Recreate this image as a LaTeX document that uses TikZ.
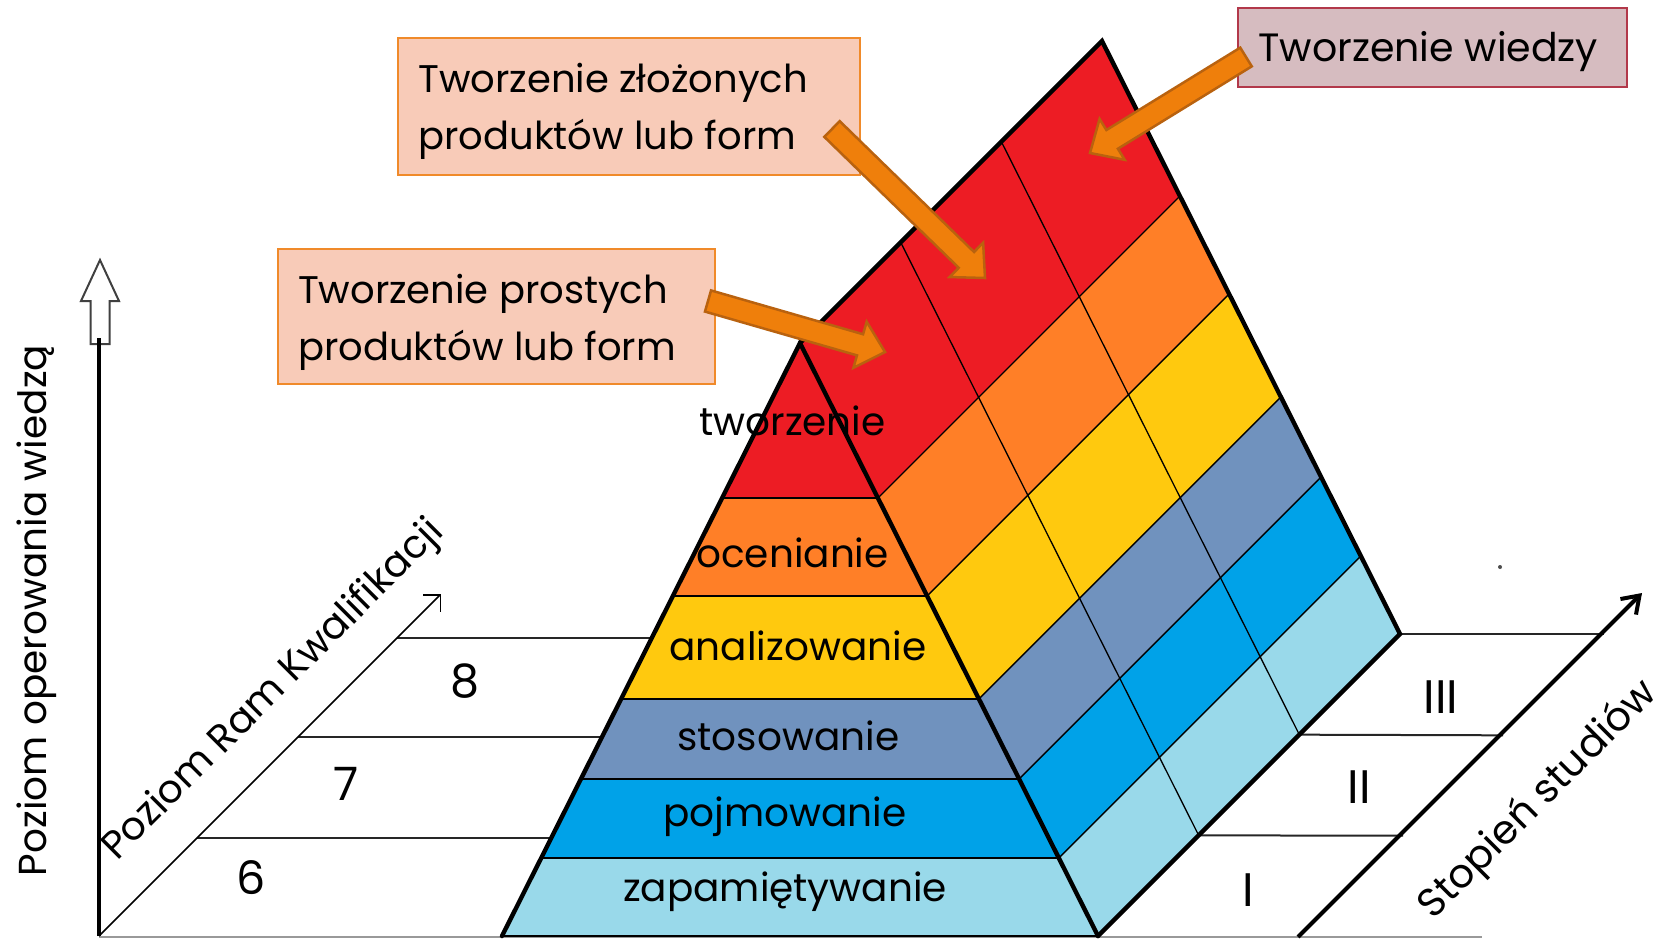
\documentclass[tikz,border=0pt]{standalone}
\usepackage{fontspec}
\setmainfont{Poppins}
\usetikzlibrary{calc,arrows.meta}

\definecolor{pred}{HTML}{ED1C24}
\definecolor{porange}{HTML}{FF7F27}
\definecolor{pyellow}{HTML}{FFC90E}
\definecolor{pslate}{HTML}{7092BE}
\definecolor{pblue}{HTML}{00A2E8}
\definecolor{plight}{HTML}{99D9EA}
\definecolor{peach}{HTML}{F8CBB8}
\definecolor{peachedge}{HTML}{F08A2A}
\definecolor{rosefill}{HTML}{D6BCC0}
\definecolor{roseedge}{HTML}{B2384A}
\definecolor{arrfill}{HTML}{EF7F0B}
\definecolor{arredge}{HTML}{B9620F}

\tikzset{
  thickedge/.style={line width=2.2pt, line join=miter, line cap=round},
  gridthin/.style={line width=0.65pt, black},
  guide/.style={line width=0.8pt, black!85},
  plabel/.style={inner sep=0pt, font=\fontsize{19.5pt}{24pt}\selectfont},
  numlbl/.style={inner sep=0pt, font=\fontsize{23pt}{28pt}\selectfont},
  axlbl/.style={inner sep=0pt, font=\fontsize{19.5pt}{24pt}\selectfont},
  peachbox/.style={draw=peachedge, fill=peach, line width=1pt, inner sep=0pt, anchor=north west},
  rosebox/.style={draw=roseedge, fill=rosefill, line width=1pt, inner sep=0pt, anchor=north west},
  ctext/.style={inner sep=0pt, align=left, font=\fontsize{19.25pt}{28.5pt}\selectfont},
  blockstyle/.style={fill=arrfill, draw=arredge, line width=1.25pt, line join=miter},
}

\newcommand{\blockarr}[2]{%
  \coordinate (#1-b) at ($(#2)!13pt!(#1)$);
  \draw[blockstyle]
    ($(#1)!5.5pt!90:(#2)$) -- ($(#1-b)!5.5pt!90:(#2)$) -- ($(#1-b)!12pt!90:(#2)$)
    -- (#2) -- ($(#1-b)!12pt!-90:(#2)$) -- ($(#1-b)!5.5pt!-90:(#2)$)
    -- ($(#1)!5.5pt!-90:(#2)$) -- cycle;}

\begin{document}
\begin{tikzpicture}[x=0.5pt,y=-0.5pt]
\useasboundingbox (0,0) rectangle (1668,938);

% --- main coordinates
\coordinate (O) at (99,936);
\coordinate (Ktip) at (441,594);
\coordinate (Vtop) at (99,338);
\coordinate (A) at (800,343);
\coordinate (BL) at (502,936);
\coordinate (BR) at (1098,936);
\coordinate (T) at (1102,41);
\coordinate (R) at (1400,634);
\coordinate (S0) at (1298,937);
\coordinate (S1) at (1642,593);
\coordinate (G0) at (99,937);
\coordinate (G1) at (1482,937);

% --- ground lines (behind pyramid)
\draw[line width=1pt, black!40] (G0) -- (G1);
\coordinate (k8) at (397,638);  \coordinate (k8e) at (700,638);
\coordinate (k7) at (298,737);  \coordinate (k7e) at (700,737);
\coordinate (k6) at (197,838);  \coordinate (k6e) at (700,838);
\draw[guide] (k8) -- (k8e);
\draw[guide] (k7) -- (k7e);
\draw[guide] (k6) -- (k6e);
\coordinate (r2) at ($(BR)!2/3!(R)$);
\coordinate (r1) at ($(BR)!1/3!(R)$);
\coordinate (r3e) at (1604,634);
\coordinate (r2e) at (1503,735.3);
\coordinate (r1e) at (1403,835.7);
\draw[guide, line width=1pt] (R) -- (r3e);
\draw[guide, line width=1pt] (r2) -- (r2e);
\draw[guide, line width=1pt] (r1) -- (r1e);

% --- band points on front edges
\foreach \n/\t in {1/0.2614, 2/0.4266, 3/0.6003, 4/0.7352, 5/0.8685}{
  \coordinate (R\n) at ($(A)!\t!(BR)$);
  \coordinate (L\n) at ($(A)!\t!(BL)$);
}
\coordinate (R0) at (A); \coordinate (R6) at (BR);

% --- side face rows
\foreach \a/\b/\c in {0/1/pred, 1/2/porange, 2/3/pyellow, 3/4/pslate, 4/5/pblue, 5/6/plight}{
  \fill[\c] (R\a) -- (R\b) -- ($(R\b)+(302,-302)$) -- ($(R\a)+(302,-302)$) -- cycle;
}
% --- front face bands
\fill[pred] (A) -- (L1) -- (R1) -- cycle;
\fill[porange] (L1) -- (L2) -- (R2) -- (R1) -- cycle;
\fill[pyellow] (L2) -- (L3) -- (R3) -- (R2) -- cycle;
\fill[pslate] (L3) -- (L4) -- (R4) -- (R3) -- cycle;
\fill[pblue] (L4) -- (L5) -- (R5) -- (R4) -- cycle;
\fill[plight] (L5) -- (BL) -- (BR) -- (R5) -- cycle;

% --- thin grid
\foreach \n in {1,...,5}{
  \draw[gridthin] (L\n) -- (R\n);
  \draw[gridthin] (R\n) -- ++(302,-302);
}
\draw[gridthin] ($(A)+(100.67,-100.67)$) -- ($(BR)+(100.67,-100.67)$);
\draw[gridthin] ($(A)+(201.33,-201.33)$) -- ($(BR)+(201.33,-201.33)$);
\draw[gridthin] (BL) -- (BR);

% --- thick outlines
\draw[thickedge] (BL) -- (A) -- (BR);
\draw[thickedge] (A) -- (T) -- (R) -- (BR);

% --- axes
\draw[line width=1pt, draw=black!75, fill=white]
  (100,260) -- (119,301) -- (109.5,301) -- (109.5,344) -- (90.5,344) -- (90.5,301) -- (81,301) -- cycle;
\draw[line width=2pt] (O) -- (Vtop);
\draw[line width=0.75pt, -{Straight Barb[length=6pt,width=12pt]}] (O) -- (Ktip);
\draw[line width=2pt, -{Straight Barb[length=8pt,width=11pt]}] (S0) -- (S1);
\fill[black!70] (1500,567) circle (1pt);

% --- axis labels
\node[axlbl, rotate=90, anchor=base] (vlab) at (46.7,610.5) {Poziom operowania wiedzą};
\node[axlbl, rotate=45, anchor=base] (klab) at (281,697.5) {Poziom Ram Kwalifikacji};
\node[axlbl, rotate=45, anchor=base, font=\fontsize{20pt}{24pt}\selectfont] (slab) at (1546,808) {Stopień studiów};

\node[numlbl] (n8) at (465,681) {8};
\node[numlbl] (n7) at (346,784) {7};
\node[numlbl] (n6) at (251,878) {6};
\node[numlbl, font=\fontsize{23.5pt}{28pt}\selectfont] (s3) at (1441,697) {III};
\node[numlbl, font=\fontsize{23.5pt}{28pt}\selectfont] (s2) at (1359.5,787) {II};
\node[numlbl, font=\fontsize{23.5pt}{28pt}\selectfont] (s1) at (1248,890) {I};

% --- pyramid labels
\node[plabel, anchor=base] (lt) at (792.5,435.5) {tworzenie};
\node[plabel, anchor=base] (lo) at (792.5,567.4) {ocenianie};
\node[plabel, anchor=base] (la) at (797.9,660) {analizowanie};
\node[plabel, anchor=base] (ls) at (788.3,750) {stosowanie};
\node[plabel, anchor=base] (lp) at (785,826) {pojmowanie};
\node[plabel, anchor=base] (lz) at (785,901) {zapamiętywanie};

% --- callouts
\node[peachbox, minimum width=231pt, minimum height=68.5pt] (zbox) at (397,37) {};
\node[ctext, anchor=west] (ztext) at (418,111.5) {Tworzenie złożonych\\produktów lub form};
\node[peachbox, minimum width=218.5pt, minimum height=67.5pt] (pbox) at (277,248) {};
\node[ctext, anchor=west] (ptext) at (297.6,322.5) {Tworzenie prostych\\produktów lub form};
\node[rosebox, minimum width=194.5pt, minimum height=39.5pt] (wbox) at (1237,7) {};
\node[ctext, anchor=base west, font=\fontsize{19.75pt}{24pt}\selectfont] (wtext) at (1258,61.7) {Tworzenie wiedzy};

% --- block arrows
\coordinate (pa) at (708,301); \coordinate (pb) at (885,352);
\coordinate (za) at (832,129); \coordinate (zb) at (985,278);
\coordinate (wa) at (1246,57); \coordinate (wb) at (1090,153);
\blockarr{pa}{pb}
\blockarr{za}{zb}
\blockarr{wa}{wb}
\end{tikzpicture}
\end{document}
